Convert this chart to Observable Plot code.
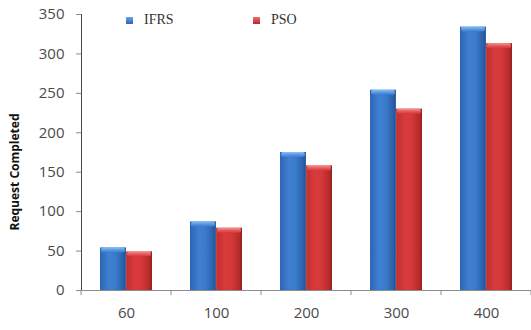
<!DOCTYPE html>
<html>
<head>
<meta charset="utf-8">
<script src="https://cdn.jsdelivr.net/npm/d3@7"></script>
<script src="https://cdn.jsdelivr.net/npm/@observablehq/plot@0.6"></script>
<style>
  html, body { margin: 0; padding: 0; background: #fff; }
  #chart { position: relative; width: 531px; height: 330px; overflow: hidden; }
  .legend { position: absolute; top: 12px; left: 0; font-family: "Liberation Serif", "Times New Roman", serif; font-size: 14px; color: #333; }
  .legend .item { position: absolute; white-space: nowrap; display: flex; align-items: center; }
  .legend .sw { width: 7px; height: 7px; display: inline-block; margin-right: 11px; }
</style>
</head>
<body>
<div id="chart"></div>
<script>
// Requests completed per workload size, IFRS vs PSO
const categories = ["60", "100", "200", "300", "400"];
const seriesNames = ["IFRS", "PSO"];
const ifrs = [54, 87, 175, 254, 334];
const pso = [49, 79, 158, 230, 313];
const yTicks = [0, 50, 100, 150, 200, 250, 300, 350];

const rows = categories.map((c, i) => ({category: c, IFRS: ifrs[i], PSO: pso[i]}));

const W = 531, H = 330;
const margin = {left: 81, right: 0, top: 14, bottom: 40};
const xOptions = {domain: categories, range: [margin.left, W - margin.right], paddingInner: 0.42, paddingOuter: 0.21};
const xs = Plot.scale({x: {type: "band", ...xOptions}});
const half = xs.bandwidth / 2;

const fills = {IFRS: "url(#gradIFRS)", PSO: "url(#gradPSO)"};
const caps = {IFRS: "url(#capIFRS)", PSO: "url(#capPSO)"};

const chart = Plot.plot({
  width: W,
  height: H,
  marginLeft: margin.left,
  marginRight: margin.right,
  marginTop: margin.top,
  marginBottom: margin.bottom,
  style: {fontFamily: "'Open Sans', sans-serif", fontSize: "15px", color: "#4a4a4a", background: "transparent"},
  x: {...xOptions, tickSize: 0, tickPadding: 17, label: null},
  y: {domain: [0, 350], ticks: yTicks, tickSize: 5, tickPadding: 12, label: null, line: true},
  marks: [
    Plot.ruleY([0], {stroke: "#8c8c8c"}),
    Plot.barY(rows, {x: "category", y: "IFRS", insetRight: half, fill: fills.IFRS}),
    Plot.barY(rows, {x: "category", y: "PSO", insetLeft: half, fill: fills.PSO}),
    Plot.barY(rows, {x: "category", y1: "IFRS", y2: "IFRS", insetRight: half + 1, insetLeft: 1, insetBottom: -5, rx: 2, fill: caps.IFRS}),
    Plot.barY(rows, {x: "category", y1: "PSO", y2: "PSO", insetLeft: half + 1, insetRight: 1, insetBottom: -5, rx: 2, fill: caps.PSO})
  ]
});

// gradients giving the bars their shaded, cylindrical look
const svg = d3.select(chart);
const defs = svg.insert("defs", ":first-child");
function hGrad(id, stops) {
  const g = defs.append("linearGradient").attr("id", id).attr("x1", 0).attr("x2", 1).attr("y1", 0).attr("y2", 0);
  stops.forEach(([o, c]) => g.append("stop").attr("offset", o).attr("stop-color", c));
}
function vGrad(id, stops) {
  const g = defs.append("linearGradient").attr("id", id).attr("x1", 0).attr("x2", 0).attr("y1", 0).attr("y2", 1);
  stops.forEach(([o, c]) => g.append("stop").attr("offset", o).attr("stop-color", c));
}
hGrad("gradIFRS", [[0, "#2c65b3"], [0.35, "#3f80d2"], [0.6, "#3b7bcc"], [0.9, "#2b5fa8"], [1, "#214e8e"]]);
hGrad("gradPSO", [[0, "#c02e2e"], [0.35, "#d93b3b"], [0.6, "#d53838"], [0.9, "#b42a2a"], [1, "#8e2020"]]);
vGrad("capIFRS", [[0, "#8fc0f2"], [0.5, "#5a9be3"], [1, "#3c7cce"]]);
vGrad("capPSO", [[0, "#f59a9a"], [0.5, "#e85c5c"], [1, "#d53a3a"]]);

// axis line colour
svg.selectAll("[aria-label='y-axis'] path, [aria-label='y-axis tick'] path, [aria-label='y-axis'] line").attr("stroke", "#8c8c8c");
svg.selectAll("g[aria-label='y-axis'], g[aria-label='y-axis tick']").attr("stroke", "#8c8c8c");

// small tick marks on the category boundaries of the x axis
const y0 = H - margin.bottom;
const bounds = categories.map(c => xs.apply(c) - (xs.step - xs.bandwidth) / 2);
bounds.push(xs.apply(categories[categories.length - 1]) + xs.bandwidth + (xs.step - xs.bandwidth) / 2);
svg.append("g").selectAll("line").data(bounds).join("line")
  .attr("x1", d => d).attr("x2", d => d)
  .attr("y1", y0).attr("y2", y0 + 5)
  .attr("stroke", "#8c8c8c");

// rotated y-axis title
svg.append("text")
  .attr("transform", `translate(19,${(margin.top + y0) / 2 + 20}) rotate(-90)`)
  .attr("text-anchor", "middle")
  .attr("font-family", "'Open Sans', sans-serif")
  .attr("font-weight", "bold")
  .attr("font-size", 12)
  .attr("fill", "#111")
  .text("Request Completed");

const root = document.getElementById("chart");
root.appendChild(chart);

// legend
const legend = document.createElement("div");
legend.className = "legend";
const legendLeft = {IFRS: 126, PSO: 253};
const swatch = {IFRS: "linear-gradient(#6aa4e6, #2c65b3)", PSO: "linear-gradient(#ef7070, #b42a2a)"};
seriesNames.forEach(name => {
  const item = document.createElement("div");
  item.className = "item";
  item.style.left = legendLeft[name] + "px";
  const sw = document.createElement("span");
  sw.className = "sw";
  sw.style.background = swatch[name];
  item.appendChild(sw);
  item.appendChild(document.createTextNode(name));
  legend.appendChild(item);
});
root.appendChild(legend);
</script>
</body>
</html>
